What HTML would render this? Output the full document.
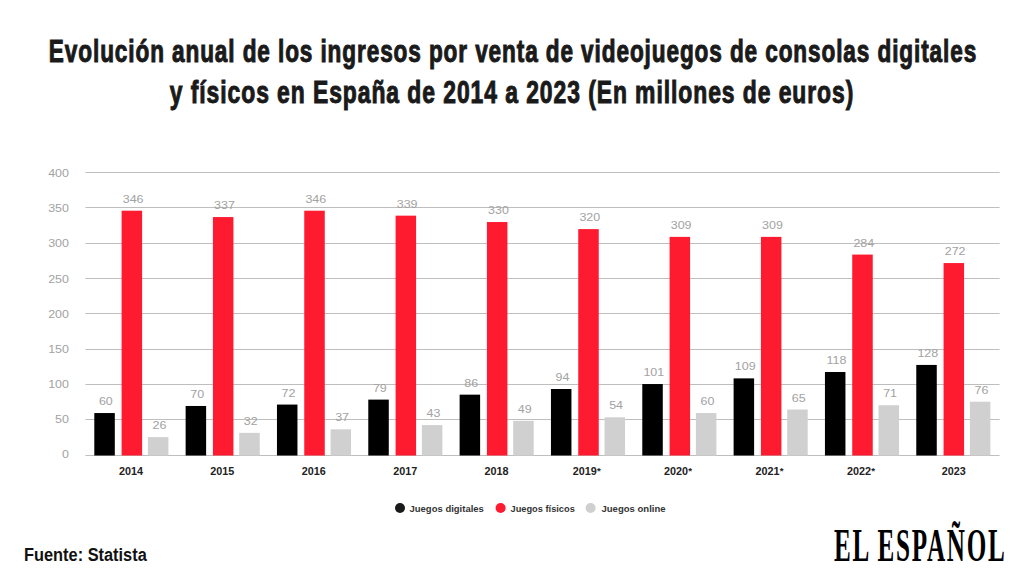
<!DOCTYPE html>
<html><head><meta charset="utf-8"><style>
html,body{margin:0;padding:0;background:#fff;width:1024px;height:576px;overflow:hidden;position:relative}
.t{position:absolute;left:512px;font-family:"Liberation Sans",sans-serif;font-weight:bold;font-size:30.5px;line-height:30px;color:#1a1a1a;white-space:nowrap;transform-origin:0 0;-webkit-text-stroke:1px #1a1a1a}
svg{position:absolute;left:0;top:0}
.ax{font-family:"Liberation Sans",sans-serif;font-size:10px;fill:#a2a2a2}
.dl{font-family:"Liberation Sans",sans-serif;font-size:10px;fill:#a2a2a2}
.yr{font-family:"Liberation Sans",sans-serif;font-size:10px;font-weight:bold;fill:#222}
.lg{font-family:"Liberation Sans",sans-serif;font-size:9px;font-weight:bold;fill:#333}
#src{position:absolute;left:24px;top:545px;font-family:"Liberation Sans",sans-serif;font-weight:bold;font-size:17.5px;line-height:20px;color:#111;transform-origin:0 0;transform:scaleX(0.935);white-space:nowrap}
#logo{position:absolute;left:834px;top:522px;font-family:"Liberation Serif",serif;font-weight:bold;font-size:47px;line-height:47px;color:#000;white-space:nowrap;transform-origin:left top;transform:scaleX(0.535);letter-spacing:3.2px}
</style></head><body>
<div class="t" style="top:35.5px;transform:translateX(1px) scaleX(0.74) translateX(-50%);letter-spacing:1.22px">Evolución anual de los ingresos por venta de videojuegos de consolas digitales</div>
<div class="t" style="top:77px;transform:scaleX(0.75) translateX(-50%);letter-spacing:1.26px">y físicos en España de 2014 a 2023 (En millones de euros)</div>
<svg width="1024" height="576" viewBox="0 0 1024 576">
<line x1="85.5" x2="999.6" y1="455.5" y2="455.5" stroke="#bebebe" stroke-width="1"/>
<text transform="translate(69,458.40) scale(1.25,1)" text-anchor="end" class="ax">0</text>
<line x1="85.5" x2="999.6" y1="419.5" y2="419.5" stroke="#bebebe" stroke-width="1"/>
<text transform="translate(69,423.22) scale(1.25,1)" text-anchor="end" class="ax">50</text>
<line x1="85.5" x2="999.6" y1="384.5" y2="384.5" stroke="#bebebe" stroke-width="1"/>
<text transform="translate(69,388.05) scale(1.25,1)" text-anchor="end" class="ax">100</text>
<line x1="85.5" x2="999.6" y1="349.5" y2="349.5" stroke="#bebebe" stroke-width="1"/>
<text transform="translate(69,352.88) scale(1.25,1)" text-anchor="end" class="ax">150</text>
<line x1="85.5" x2="999.6" y1="313.5" y2="313.5" stroke="#bebebe" stroke-width="1"/>
<text transform="translate(69,317.70) scale(1.25,1)" text-anchor="end" class="ax">200</text>
<line x1="85.5" x2="999.6" y1="278.5" y2="278.5" stroke="#bebebe" stroke-width="1"/>
<text transform="translate(69,282.52) scale(1.25,1)" text-anchor="end" class="ax">250</text>
<line x1="85.5" x2="999.6" y1="243.5" y2="243.5" stroke="#bebebe" stroke-width="1"/>
<text transform="translate(69,247.35) scale(1.25,1)" text-anchor="end" class="ax">300</text>
<line x1="85.5" x2="999.6" y1="207.5" y2="207.5" stroke="#bebebe" stroke-width="1"/>
<text transform="translate(69,212.18) scale(1.25,1)" text-anchor="end" class="ax">350</text>
<line x1="85.5" x2="999.6" y1="172.5" y2="172.5" stroke="#bebebe" stroke-width="1"/>
<text transform="translate(69,177.00) scale(1.25,1)" text-anchor="end" class="ax">400</text>
<rect x="94.30" y="413.05" width="20.5" height="42.45" fill="#000000"/>
<text transform="translate(105.85,405.1) scale(1.25,1)" text-anchor="middle" class="dl">60</text>
<rect x="121.60" y="210.70" width="20.5" height="244.80" fill="#fe1a2f"/>
<text transform="translate(133.15,202.7) scale(1.25,1)" text-anchor="middle" class="dl">346</text>
<rect x="147.90" y="437.11" width="20.5" height="18.39" fill="#d0d0d0"/>
<text transform="translate(159.45,429.1) scale(1.25,1)" text-anchor="middle" class="dl">26</text>
<text transform="translate(130.90,474.6) scale(1.08,1)" text-anchor="middle" class="yr">2014</text>
<rect x="185.63" y="405.98" width="20.5" height="49.52" fill="#000000"/>
<text transform="translate(197.18,398.0) scale(1.25,1)" text-anchor="middle" class="dl">70</text>
<rect x="212.93" y="217.07" width="20.5" height="238.43" fill="#fe1a2f"/>
<text transform="translate(224.48,209.1) scale(1.25,1)" text-anchor="middle" class="dl">337</text>
<rect x="239.23" y="432.86" width="20.5" height="22.64" fill="#d0d0d0"/>
<text transform="translate(250.78,424.9) scale(1.25,1)" text-anchor="middle" class="dl">32</text>
<text transform="translate(222.32,474.6) scale(1.08,1)" text-anchor="middle" class="yr">2015</text>
<rect x="276.96" y="404.56" width="20.5" height="50.94" fill="#000000"/>
<text transform="translate(288.51,396.6) scale(1.25,1)" text-anchor="middle" class="dl">72</text>
<rect x="304.26" y="210.70" width="20.5" height="244.80" fill="#fe1a2f"/>
<text transform="translate(315.81,202.7) scale(1.25,1)" text-anchor="middle" class="dl">346</text>
<rect x="330.56" y="429.32" width="20.5" height="26.18" fill="#d0d0d0"/>
<text transform="translate(342.11,421.3) scale(1.25,1)" text-anchor="middle" class="dl">37</text>
<text transform="translate(313.74,474.6) scale(1.08,1)" text-anchor="middle" class="yr">2016</text>
<rect x="368.29" y="399.61" width="20.5" height="55.89" fill="#000000"/>
<text transform="translate(379.84,391.6) scale(1.25,1)" text-anchor="middle" class="dl">79</text>
<rect x="395.59" y="215.66" width="20.5" height="239.84" fill="#fe1a2f"/>
<text transform="translate(407.14,207.7) scale(1.25,1)" text-anchor="middle" class="dl">339</text>
<rect x="421.89" y="425.08" width="20.5" height="30.42" fill="#d0d0d0"/>
<text transform="translate(433.44,417.1) scale(1.25,1)" text-anchor="middle" class="dl">43</text>
<text transform="translate(405.16,474.6) scale(1.08,1)" text-anchor="middle" class="yr">2017</text>
<rect x="459.62" y="394.65" width="20.5" height="60.84" fill="#000000"/>
<text transform="translate(471.17,386.7) scale(1.25,1)" text-anchor="middle" class="dl">86</text>
<rect x="486.92" y="222.03" width="20.5" height="233.47" fill="#fe1a2f"/>
<text transform="translate(498.47,214.0) scale(1.25,1)" text-anchor="middle" class="dl">330</text>
<rect x="513.22" y="420.83" width="20.5" height="34.67" fill="#d0d0d0"/>
<text transform="translate(524.77,412.8) scale(1.25,1)" text-anchor="middle" class="dl">49</text>
<text transform="translate(496.58,474.6) scale(1.08,1)" text-anchor="middle" class="yr">2018</text>
<rect x="550.95" y="389.00" width="20.5" height="66.50" fill="#000000"/>
<text transform="translate(562.50,381.0) scale(1.25,1)" text-anchor="middle" class="dl">94</text>
<rect x="578.25" y="229.10" width="20.5" height="226.40" fill="#fe1a2f"/>
<text transform="translate(589.80,221.1) scale(1.25,1)" text-anchor="middle" class="dl">320</text>
<rect x="604.55" y="417.30" width="20.5" height="38.20" fill="#d0d0d0"/>
<text transform="translate(616.10,409.3) scale(1.25,1)" text-anchor="middle" class="dl">54</text>
<text transform="translate(586.70,474.6) scale(1.08,1)" text-anchor="middle" class="yr">2019<tspan font-size="9" dx="0.3" dy="-1">*</tspan></text>
<rect x="642.28" y="384.04" width="20.5" height="71.46" fill="#000000"/>
<text transform="translate(653.83,376.0) scale(1.25,1)" text-anchor="middle" class="dl">101</text>
<rect x="669.58" y="236.88" width="20.5" height="218.62" fill="#fe1a2f"/>
<text transform="translate(681.13,228.9) scale(1.25,1)" text-anchor="middle" class="dl">309</text>
<rect x="695.88" y="413.05" width="20.5" height="42.45" fill="#d0d0d0"/>
<text transform="translate(707.43,405.1) scale(1.25,1)" text-anchor="middle" class="dl">60</text>
<text transform="translate(678.12,474.6) scale(1.08,1)" text-anchor="middle" class="yr">2020<tspan font-size="9" dx="0.3" dy="-1">*</tspan></text>
<rect x="733.61" y="378.38" width="20.5" height="77.12" fill="#000000"/>
<text transform="translate(745.16,370.4) scale(1.25,1)" text-anchor="middle" class="dl">109</text>
<rect x="760.91" y="236.88" width="20.5" height="218.62" fill="#fe1a2f"/>
<text transform="translate(772.46,228.9) scale(1.25,1)" text-anchor="middle" class="dl">309</text>
<rect x="787.21" y="409.51" width="20.5" height="45.99" fill="#d0d0d0"/>
<text transform="translate(798.76,401.5) scale(1.25,1)" text-anchor="middle" class="dl">65</text>
<text transform="translate(769.54,474.6) scale(1.08,1)" text-anchor="middle" class="yr">2021<tspan font-size="9" dx="0.3" dy="-1">*</tspan></text>
<rect x="824.94" y="372.01" width="20.5" height="83.48" fill="#000000"/>
<text transform="translate(836.49,364.0) scale(1.25,1)" text-anchor="middle" class="dl">118</text>
<rect x="852.24" y="254.57" width="20.5" height="200.93" fill="#fe1a2f"/>
<text transform="translate(863.79,246.6) scale(1.25,1)" text-anchor="middle" class="dl">284</text>
<rect x="878.54" y="405.27" width="20.5" height="50.23" fill="#d0d0d0"/>
<text transform="translate(890.09,397.3) scale(1.25,1)" text-anchor="middle" class="dl">71</text>
<text transform="translate(860.96,474.6) scale(1.08,1)" text-anchor="middle" class="yr">2022<tspan font-size="9" dx="0.3" dy="-1">*</tspan></text>
<rect x="916.27" y="364.94" width="20.5" height="90.56" fill="#000000"/>
<text transform="translate(927.82,356.9) scale(1.25,1)" text-anchor="middle" class="dl">128</text>
<rect x="943.57" y="263.06" width="20.5" height="192.44" fill="#fe1a2f"/>
<text transform="translate(955.12,255.1) scale(1.25,1)" text-anchor="middle" class="dl">272</text>
<rect x="969.87" y="401.73" width="20.5" height="53.77" fill="#d0d0d0"/>
<text transform="translate(981.42,393.7) scale(1.25,1)" text-anchor="middle" class="dl">76</text>
<text transform="translate(953.68,474.6) scale(1.08,1)" text-anchor="middle" class="yr">2023</text>
<circle cx="400" cy="508" r="5" fill="#1a1a1a"/>
<text transform="translate(409.5,512) scale(1.055,1)" class="lg">Juegos digitales</text>
<circle cx="500.6" cy="508" r="5" fill="#fe1a2f"/>
<text transform="translate(510.5,512) scale(1.03,1)" class="lg">Juegos físicos</text>
<circle cx="590.6" cy="508" r="5" fill="#cfcfcf"/>
<text transform="translate(601.5,512) scale(1.06,1)" class="lg">Juegos online</text>
</svg>
<div id="src">Fuente: Statista</div>
<div id="logo">EL ESPAÑOL</div>
</body></html>
